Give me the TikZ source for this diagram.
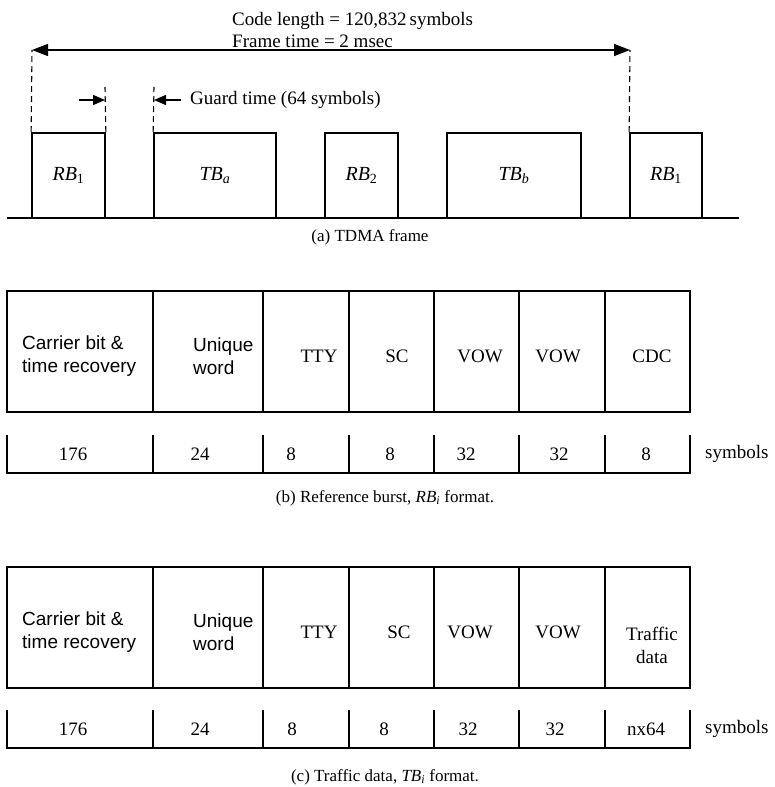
\documentclass[tikz,border=0pt]{standalone}
\usepackage{fontspec}
\setmainfont{Liberation Serif}
\newfontfamily\cellsans{Liberation Sans}
\usetikzlibrary{arrows.meta,positioning}

\begin{document}
\begin{tikzpicture}[x=1pt,y=-1pt,
burst/.style={draw,line width=1.7pt,inner sep=0pt,minimum height=85pt,font=\fontsize{20}{24}\selectfont\itshape},
cell/.style={draw,line width=1.6pt,inner sep=0pt,minimum height=121pt},
lab/.style={font=\fontsize{19}{23}\selectfont,align=left,inner sep=0pt},
slab/.style={font=\cellsans\fontsize{19}{23}\selectfont,align=left,inner sep=0pt,anchor=west},
num/.style={font=\fontsize{19}{23}\selectfont,inner sep=0pt},
figcap/.style={font=\fontsize{17}{20}\selectfont,inner sep=0pt},
tick/.style={line width=1.5pt},
arr/.style={-{Triangle[length=12pt,width=10pt]},line width=1.4pt},
dim/.style={{Triangle[length=16pt,width=12pt]}-{Triangle[length=16pt,width=12pt]},line width=1.4pt},
guide/.style={line width=1.1pt,dash pattern=on 6pt off 4pt}]
\useasboundingbox (0,0) rectangle (774,787);
% (a) TDMA frame
\coordinate (b0) at (7,218);
\coordinate (b1) at (739,218);
\draw[line width=1.6pt] (b0) -- (b1);
\node[burst,minimum width=73pt] (rb1) at (68.5,175.5) {RB\textsubscript{\upshape 1}};
\node[burst,minimum width=122pt] (tba) at (215,175.5) {TB\textsubscript{a}};
\node[burst,minimum width=73pt] (rb2) at (361.5,175.5) {RB\textsubscript{\upshape 2}};
\node[burst,minimum width=134pt] (tbb) at (514,175.5) {TB\textsubscript{b}};
\node[burst,minimum width=72pt] (rb1b) at (666,175.5) {RB\textsubscript{\upshape 1}};
\coordinate (fl) at (32,50);
\coordinate (fr) at (630,50);
\draw[guide] (rb1.north west) -- (fl);
\draw[guide] (rb1b.north west) -- (fr);
\draw[dim] (fl) -- (fr);
\node[lab,anchor=base west] (code) at (232,25) {Code length = 120,832\,symbols};
\node[lab,anchor=base west] (frame) at (232,47) {Frame time = 2 msec};
\coordinate (g1) at (105,87);
\coordinate (g2) at (154,87);
\draw[guide] (rb1.north east) -- (g1);
\draw[guide] (tba.north west) -- (g2);
\coordinate (gl) at (79,100);
\coordinate (gr) at (181,100);
\draw[arr] (gl) -- (g1 |- gl);
\draw[arr] (gr) -- (g2 |- gr);
\node[lab,anchor=west] (guard) at (190,100) {Guard time (64 symbols)};
\node[figcap] (capa) at (370,237) {(a) TDMA frame};
% (b) reference burst
\node[cell,minimum width=146pt] (rcb) at (80,351.5) {};
\node[cell,minimum width=110pt] (ruw) at (208,351.5) {};
\node[cell,minimum width=86pt] (rtty) at (306,351.5) {};
\node[cell,minimum width=85pt] (rsc) at (391.5,351.5) {};
\node[cell,minimum width=85pt] (rvow) at (476.5,351.5) {};
\node[cell,minimum width=86pt] (rvowb) at (562,351.5) {};
\node[cell,minimum width=85pt] (rcdc) at (647.5,351.5) {};
\node[slab] (rcbt) at (22,356) {Carrier bit \&\\time recovery};
\node[slab] (ruwt) at (193,356) {Unique\\word};
\node[lab] (rttyt) at (319,356) {TTY};
\node[lab] (rsct) at (397,356) {SC};
\node[lab] (rvowt) at (480,356) {VOW};
\node[lab] (rvowbt) at (558,356) {VOW};
\node[lab] (rcdct) at (652,356) {CDC};
\draw[tick] (7,435) -- (7,473) -- (690,473) -- (690,435);
\foreach \x in {153,263,349,434,519,605}
  \draw[tick] (\x,435) -- (\x,473);
\node[num] (rn1) at (73,454) {176};
\node[num] (rn2) at (200,454) {24};
\node[num] (rn3) at (291,454) {8};
\node[num] (rn4) at (390,454) {8};
\node[num] (rn5) at (466,454) {32};
\node[num] (rn6) at (559,454) {32};
\node[num] (rn7) at (646,454) {8};
\node[num,anchor=west] (rsym) at (705,454) {symbols};
\node[figcap] (capb) at (385,498) {(b) Reference burst, \textit{RB\textsubscript{i}} format.};
% (c) traffic data
\node[cell,minimum width=146pt] (tcb) at (80,627.5) {};
\node[cell,minimum width=110pt] (tuw) at (208,627.5) {};
\node[cell,minimum width=86pt] (ttty) at (306,627.5) {};
\node[cell,minimum width=85pt] (tsc) at (391.5,627.5) {};
\node[cell,minimum width=85pt] (tvow) at (476.5,627.5) {};
\node[cell,minimum width=86pt] (tvowb) at (562,627.5) {};
\node[cell,minimum width=85pt] (ttd) at (647.5,627.5) {};
\node[slab] (tcbt) at (22,632) {Carrier bit \&\\time recovery};
\node[slab] (tuwt) at (193,632) {Unique\\word};
\node[lab] (tttyt) at (319,632) {TTY};
\node[lab] (tsct) at (399,632) {SC};
\node[lab] (tvowt) at (470,632) {VOW};
\node[lab] (tvowbt) at (558,632) {VOW};
\node[lab,align=center] (ttdt) at (652,645) {Traffic\\data};
\draw[tick] (7,710) -- (7,748) -- (690,748) -- (690,710);
\foreach \x in {153,263,349,434,519,605}
  \draw[tick] (\x,710) -- (\x,748);
\node[num] (tn1) at (73,729) {176};
\node[num] (tn2) at (200,729) {24};
\node[num] (tn3) at (292,729) {8};
\node[num] (tn4) at (384,729) {8};
\node[num] (tn5) at (468,729) {32};
\node[num] (tn6) at (555,729) {32};
\node[num] (tn7) at (646,729) {nx64};
\node[num,anchor=west] (tsym) at (705,729) {symbols};
\node[figcap] (capc) at (385,777) {(c) Traffic data, \textit{TB\textsubscript{i}} format.};
\end{tikzpicture}
\end{document}
